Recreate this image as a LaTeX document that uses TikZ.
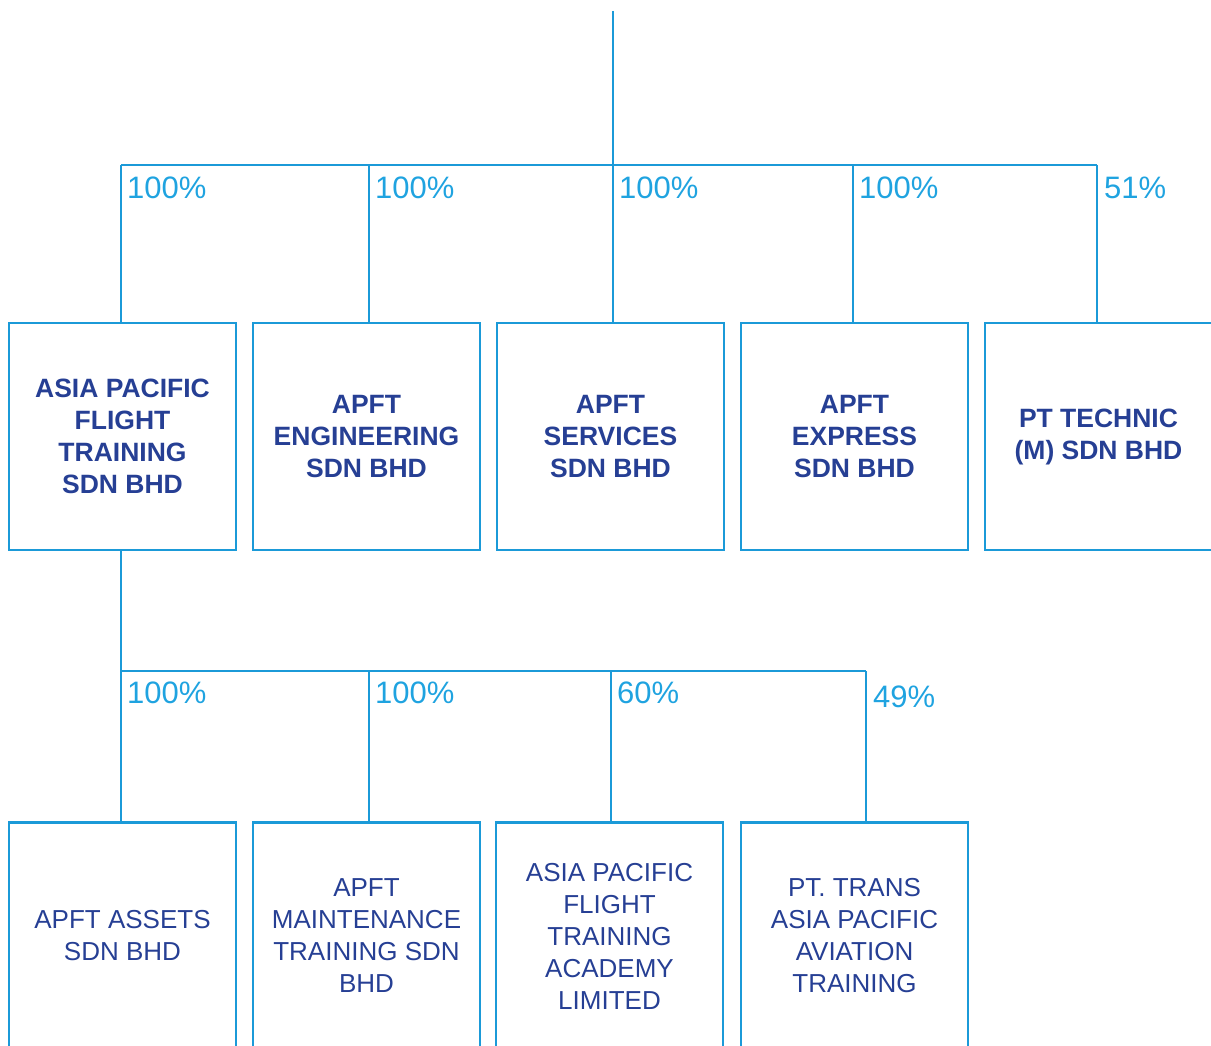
\documentclass[tikz,border=0pt]{standalone}
\usepackage{fontspec}
\setmainfont{Liberation Sans}
\definecolor{lineblue}{HTML}{1B9AD8}
\definecolor{pctblue}{HTML}{1FA3E0}
\definecolor{textblue}{HTML}{263F94}
\tikzset{
  conn/.style={draw=lineblue, line width=2.8pt},
  cobox/.style={draw=lineblue, line width=2.8pt, minimum width=227pt, minimum height=227pt,
    align=center, text=textblue, inner sep=0pt},
  boldbox/.style={cobox, font=\bfseries\fontsize{26.5}{32}\selectfont},
  regbox/.style={cobox, font=\fontsize{26}{32}\selectfont},
  pct/.style={anchor=base west, inner sep=0pt, text=pctblue, font=\fontsize{31}{31}\selectfont}
}
\begin{document}
\begin{tikzpicture}[x=1pt,y=-1pt]
\useasboundingbox (0,0) rectangle (1211,1046);
\clip (0,0) rectangle (1211,1046);
% top
\coordinate (top) at (613,11);
\coordinate (hub) at (613,165);
\coordinate (hub2) at (121,671);
% row 1
\node[boldbox] (b1) at (122.5,436.5) {ASIA PACIFIC\\FLIGHT\\TRAINING\\SDN BHD};
\node[boldbox] (b2) at (366.5,436.5) {APFT\\ENGINEERING\\SDN BHD};
\node[boldbox] (b3) at (610.5,436.5) {APFT\\SERVICES\\SDN BHD};
\node[boldbox] (b4) at (854.5,436.5) {APFT\\EXPRESS\\SDN BHD};
\node[boldbox] (b5) at (1098.5,436.5) {PT TECHNIC\\(M) SDN BHD};
% row 2
\node[regbox] (c1) at (122.5,936) {APFT ASSETS\\SDN BHD};
\node[regbox] (c2) at (366.5,936) {APFT\\MAINTENANCE\\TRAINING SDN\\BHD};
\node[regbox] (c3) at (609.5,936) {ASIA PACIFIC\\FLIGHT\\TRAINING\\ACADEMY\\LIMITED};
\node[regbox] (c4) at (854.5,936) {PT. TRANS\\ASIA PACIFIC\\AVIATION\\TRAINING};
% connectors row 1
\coordinate (d1) at (121,165);
\coordinate (d2) at (369,165);
\coordinate (d4) at (853,165);
\coordinate (d5) at (1097,165);
\draw[conn] (top) -- (hub);
\draw[conn] (d1) -- (d5);
\draw[conn] (d1) -- (d1 |- b1.north);
\draw[conn] (d2) -- (d2 |- b2.north);
\draw[conn] (hub) -- (hub |- b3.north);
\draw[conn] (d4) -- (d4 |- b4.north);
\draw[conn] (d5) -- (d5 |- b5.north);
% connectors row 2
\coordinate (e2) at (369,671);
\coordinate (e3) at (611,671);
\coordinate (e4) at (866,671);
\draw[conn] (hub2 |- b1.south) -- (hub2);
\draw[conn] (hub2) -- (e4);
\draw[conn] (hub2) -- (hub2 |- c1.north);
\draw[conn] (e2) -- (e2 |- c2.north);
\draw[conn] (e3) -- (e3 |- c3.north);
\draw[conn] (e4) -- (e4 |- c4.north);
% percentages
\node[pct] (p1) at (127,198) {100\%};
\node[pct] (p2) at (375,198) {100\%};
\node[pct] (p3) at (619,198) {100\%};
\node[pct] (p4) at (859,198) {100\%};
\node[pct] (p5) at (1104,198) {51\%};
\node[pct] (q1) at (127,703) {100\%};
\node[pct] (q2) at (375,703) {100\%};
\node[pct] (q3) at (617,703) {60\%};
\node[pct] (q4) at (873,707) {49\%};
\end{tikzpicture}
\end{document}
